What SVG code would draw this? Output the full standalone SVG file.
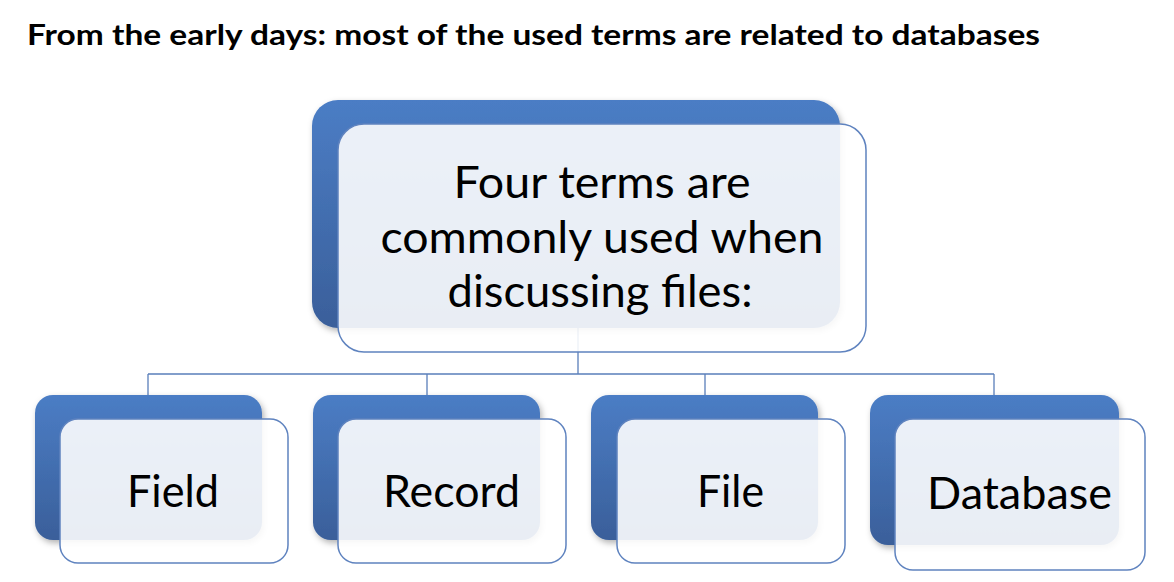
<svg xmlns="http://www.w3.org/2000/svg" width="1174" height="582" viewBox="0 0 1174 582">
<style>
.back{fill:url(#gb);}
.front{fill:#ffffff;fill-opacity:0.89;stroke:#5f83bf;stroke-width:1.5;}
.lbl{font-family:Lato,"Open Sans","Liberation Sans",sans-serif;font-size:44px;fill:#000;text-anchor:middle;}
.title{font-family:Lato,"Open Sans","Liberation Sans",sans-serif;font-size:28px;font-weight:bold;fill:#000;}
.conn{fill:none;stroke:#5a7fbb;stroke-width:1.3;}
</style>
<defs>
<linearGradient id="gb" x1="0" y1="0" x2="0" y2="1">
<stop offset="0" stop-color="#4b7dc5"/>
<stop offset="1" stop-color="#3a5f9a"/>
</linearGradient>
<filter id="sh" x="-10%" y="-10%" width="130%" height="130%">
<feDropShadow dx="2" dy="3" stdDeviation="3" flood-color="#000" flood-opacity="0.3"/>
</filter>
</defs>
<rect width="1174" height="582" fill="#ffffff"/>
<text class="title" x="27" y="45" textLength="1013" lengthAdjust="spacingAndGlyphs">From the early days: most of the used terms are related to databases</text>
<g id="connectors">
<path class="conn" d="M578 328 V374 M148 374 H994 M148 374 V395 M427 374 V395 M705 374 V395 M994 374 V395"/>
</g>
<g id="node-top">
<rect class="back" x="312" y="100" width="528" height="228" rx="26" filter="url(#sh)"/>
<rect class="front" x="338" y="124" width="528" height="228" rx="26"/>
<text class="lbl" x="602" y="198" textLength="297" lengthAdjust="spacingAndGlyphs">Four terms are</text>
<text class="lbl" x="602" y="253" textLength="443" lengthAdjust="spacingAndGlyphs">commonly used when</text>
<text class="lbl" x="600" y="307" textLength="305" lengthAdjust="spacingAndGlyphs">discussing files:</text>
</g>
<g id="node-field">
<rect class="back" x="35" y="395" width="227" height="145" rx="18" filter="url(#sh)"/>
<rect class="front" x="60" y="419" width="228" height="144" rx="18"/>
<text class="lbl" x="173" y="507" textLength="92" lengthAdjust="spacingAndGlyphs">Field</text>
</g>
<g id="node-record">
<rect class="back" x="313" y="395" width="227" height="145" rx="18" filter="url(#sh)"/>
<rect class="front" x="338" y="419" width="228" height="144" rx="18"/>
<text class="lbl" x="451.5" y="507" textLength="137" lengthAdjust="spacingAndGlyphs">Record</text>
</g>
<g id="node-file">
<rect class="back" x="591" y="395" width="227" height="145" rx="18" filter="url(#sh)"/>
<rect class="front" x="617" y="419" width="228" height="144" rx="18"/>
<text class="lbl" x="730.5" y="507" textLength="67" lengthAdjust="spacingAndGlyphs">File</text>
</g>
<g id="node-database">
<rect class="back" x="870" y="395" width="249" height="150" rx="18" filter="url(#sh)"/>
<rect class="front" x="895" y="419" width="250" height="151" rx="18"/>
<text class="lbl" x="1019.5" y="509" textLength="185" lengthAdjust="spacingAndGlyphs">Database</text>
</g>
</svg>
